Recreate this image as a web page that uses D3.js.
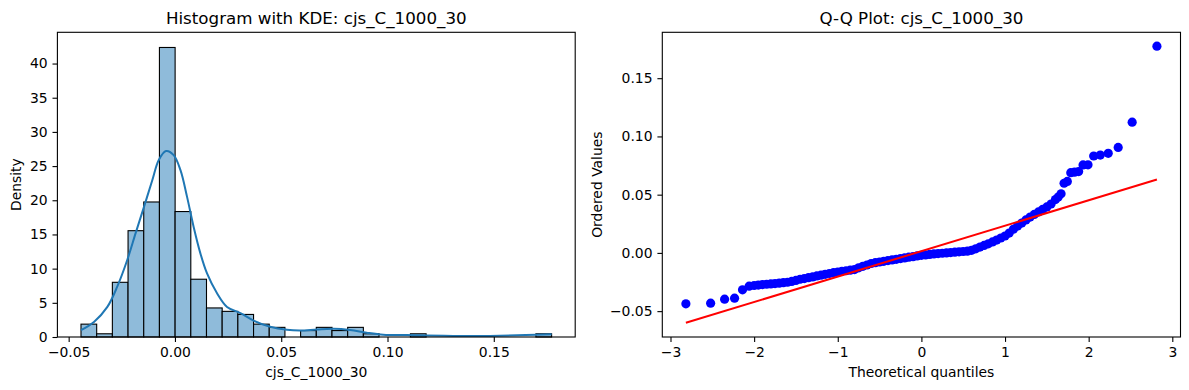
<!DOCTYPE html>
<html>
<head>
<meta charset="utf-8">
<script src="https://cdn.jsdelivr.net/npm/d3@7"></script>
<style>
  body { margin: 0; background: #fff; }
  svg text { font-family: "DejaVu Sans", sans-serif; fill: #000; }
</style>
</head>
<body>
<script>
var width  = 1189
var height = 390
var varName = 'cjs_C_1000_30'

// histogram: 30 bins between the sample min and max, density per bin
var histMin = -0.0442
var histMax = 0.1772
var histDensity = [1.88, 0.47, 8.0, 15.55, 19.75, 42.35, 18.35, 8.45, 4.25, 3.75,
                   3.3, 1.88, 1.41, 0, 0.94, 1.41, 0.94, 1.41, 0.47, 0,
                   0, 0.47, 0, 0, 0, 0, 0, 0, 0, 0.47]

// kde curve
var kdeX = [-0.0442, -0.0381, -0.0318, -0.0271, -0.0224, -0.0185, -0.0146, -0.0107, -0.0076, -0.0042,
            -0.0006, 0.0026, 0.0057, 0.0088, 0.0120, 0.0151, 0.0198, 0.0245, 0.0308, 0.0370,
            0.0448, 0.0527, 0.0589, 0.0668, 0.0746, 0.0824, 0.0902, 0.0980, 0.1090, 0.1184,
            0.1309, 0.1434, 0.1528, 0.1650, 0.1772]
var kdeY = [1.0, 2.2, 4.4, 7.4, 11.3, 15.2, 19.0, 22.9, 25.9, 27.2,
            26.6, 24.4, 20.5, 16.1, 12.2, 9.3, 6.4, 4.4, 3.5, 2.4,
            1.5, 1.05, 0.95, 1.1, 1.2, 1.02, 0.63, 0.34, 0.28, 0.22,
            0.15, 0.15, 0.18, 0.28, 0.42]

// q-q points (theoretical quantile, ordered value)
var qqX = [-2.816, -2.520, -2.353, -2.234, -2.139, -2.06,
  -2.00, -1.95, -1.90, -1.85, -1.80, -1.75, -1.70, -1.65, -1.60, -1.55,
  -1.50, -1.45, -1.40, -1.35, -1.30, -1.25, -1.20, -1.15, -1.10, -1.05,
  -1.00, -0.95, -0.90, -0.85, -0.80, -0.75, -0.70, -0.65, -0.60, -0.55,
  -0.50, -0.45, -0.40, -0.35, -0.30, -0.25, -0.20, -0.15, -0.10, -0.05,
  0.00, 0.05, 0.10, 0.15, 0.20, 0.25, 0.30, 0.35, 0.40, 0.45,
  0.50, 0.55, 0.60, 0.65, 0.70, 0.75, 0.80, 0.85, 0.90, 0.95,
  1.00, 1.05, 1.10, 1.15, 1.20, 1.25, 1.30, 1.35, 1.40, 1.45,
  1.50, 1.55, 1.603, 1.636, 1.670, 1.706, 1.745, 1.786, 1.831, 1.880,
  1.933, 1.992, 2.060, 2.139, 2.234, 2.353, 2.520, 2.816]
var qqY = [-0.0437, -0.0432, -0.0397, -0.0389, -0.0317, -0.0286,
  -0.0280, -0.0276, -0.0272, -0.0269, -0.0266, -0.0263, -0.0260, -0.0256, -0.0252, -0.0245,
  -0.0236, -0.0226, -0.0220, -0.0213, -0.0206, -0.0198, -0.0191, -0.0184, -0.0177, -0.0170,
  -0.0164, -0.0158, -0.0153, -0.0148, -0.0143, -0.0128, -0.0115, -0.0104, -0.0091, -0.0084,
  -0.0078, -0.0072, -0.0066, -0.0060, -0.0055, -0.0049, -0.0043, -0.0037, -0.0032, -0.0026,
  -0.0021, -0.0017, -0.0013, -0.0009, -0.0006, -0.0003, 0.0000, 0.0003, 0.0006, 0.0009,
  0.0012, 0.0015, 0.0022, 0.0035, 0.0050, 0.0064, 0.0078, 0.0094, 0.0110, 0.0128,
  0.0145, 0.0170, 0.0203, 0.0230, 0.0256, 0.0283, 0.0308, 0.0330, 0.0352, 0.0373,
  0.0395, 0.0420, 0.0458, 0.0480, 0.0508, 0.0598, 0.0614, 0.0689, 0.0693, 0.0698,
  0.0755, 0.0756, 0.0832, 0.0840, 0.0855, 0.0906, 0.1122, 0.1775]

// least squares line
var fitX = [-2.816, 2.816]
var fitY = [-0.0600, 0.0630]

var histXTicks = [-0.05, 0, 0.05, 0.10, 0.15]
var histYTicks = [0, 5, 10, 15, 20, 25, 30, 35, 40]
var qqXTicks = [-3, -2, -1, 0, 1, 2, 3]
var qqYTicks = [-0.05, 0, 0.05, 0.10, 0.15]

var plotTop = 32.3, plotBottom = 337
var left1 = 57.4, right1 = 575.2
var left2 = 662.3, right2 = 1180.5
var fs = 13.9

var svg = d3.select('body').append('svg')
  .attr('width', width)
  .attr('height', height)

function styleAxis(g) {
  g.select('.domain').remove()
  g.selectAll('.tick line').attr('stroke', '#000').attr('stroke-width', 1.1)
  g.selectAll('.tick text').attr('font-size', fs).attr('font-family', 'DejaVu Sans')
}

function frame(x0, x1) {
  svg.append('rect')
    .attr('x', x0).attr('y', plotTop)
    .attr('width', x1 - x0).attr('height', plotBottom - plotTop)
    .attr('fill', 'none')
    .attr('stroke', '#000')
    .attr('stroke-width', 1.1)
}

function labels(x0, x1, title, xlab, ylab, ylabX) {
  var cx = (x0 + x1) / 2
  svg.append('text')
    .attr('x', cx).attr('y', plotTop - 8.5)
    .attr('text-anchor', 'middle')
    .attr('font-size', 16.7)
    .text(title)
  svg.append('text')
    .attr('x', cx).attr('y', 377)
    .attr('text-anchor', 'middle')
    .attr('font-size', fs)
    .text(xlab)
  svg.append('text')
    .attr('transform', 'translate(' + [ylabX, (plotTop + plotBottom) / 2] + ') rotate(-90)')
    .attr('text-anchor', 'middle')
    .attr('dy', '0.35em')
    .attr('font-size', fs)
    .text(ylab)
}

// ---------- histogram with kde ----------
var x1 = d3.scaleLinear().domain([-0.0553, 0.1883]).range([left1, right1])
var y1 = d3.scaleLinear().domain([0, 44.57]).range([plotBottom, plotTop])
var binW = (histMax - histMin) / histDensity.length

svg.append('g').selectAll('rect')
  .data(histDensity)
  .enter()
  .append('rect')
  .attr('x', (d, i) => x1(histMin + i * binW))
  .attr('width', (d, i) => x1(histMin + (i + 1) * binW) - x1(histMin + i * binW))
  .attr('y', d => y1(d))
  .attr('height', d => y1(0) - y1(d))
  .attr('fill', 'rgb(143,187,218)')
  .attr('stroke', '#000')
  .attr('stroke-width', 1.1)

var kdeLine = d3.line()
  .x(d => x1(d[0]))
  .y(d => y1(d[1]))
  .curve(d3.curveCatmullRom)

svg.append('path')
  .datum(d3.zip(kdeX, kdeY))
  .attr('d', kdeLine)
  .attr('fill', 'none')
  .attr('stroke', '#1f77b4')
  .attr('stroke-width', 2)

svg.append('g')
  .attr('transform', 'translate(' + [0, plotBottom] + ')')
  .call(d3.axisBottom(x1).tickValues(histXTicks).tickFormat(d3.format('.2f'))
    .tickSize(4.9).tickPadding(4.9))
  .call(styleAxis)

svg.append('g')
  .attr('transform', 'translate(' + [left1, 0] + ')')
  .call(d3.axisLeft(y1).tickValues(histYTicks).tickFormat(d3.format('d'))
    .tickSize(4.9).tickPadding(4.9))
  .call(styleAxis)

frame(left1, right1)
labels(left1, right1, 'Histogram with KDE: ' + varName, varName, 'Density', 16)

// ---------- q-q plot ----------
var x2 = d3.scaleLinear().domain([-3.098, 3.098]).range([left2, right2])
var y2 = d3.scaleLinear().domain([-0.0722, 0.1894]).range([plotBottom, plotTop])

svg.append('g').selectAll('circle')
  .data(d3.zip(qqX, qqY))
  .enter()
  .append('circle')
  .attr('cx', d => x2(d[0]))
  .attr('cy', d => y2(d[1]))
  .attr('r', 4.6)
  .attr('fill', '#0000ff')

svg.append('path')
  .datum(d3.zip(fitX, fitY))
  .attr('d', d3.line().x(d => x2(d[0])).y(d => y2(d[1])))
  .attr('fill', 'none')
  .attr('stroke', '#ff0000')
  .attr('stroke-width', 2)

svg.append('g')
  .attr('transform', 'translate(' + [0, plotBottom] + ')')
  .call(d3.axisBottom(x2).tickValues(qqXTicks).tickFormat(d3.format('d'))
    .tickSize(4.9).tickPadding(4.9))
  .call(styleAxis)

svg.append('g')
  .attr('transform', 'translate(' + [left2, 0] + ')')
  .call(d3.axisLeft(y2).tickValues(qqYTicks).tickFormat(d3.format('.2f'))
    .tickSize(4.9).tickPadding(4.9))
  .call(styleAxis)

frame(left2, right2)
labels(left2, right2, 'Q-Q Plot: ' + varName, 'Theoretical quantiles', 'Ordered Values', 597)
</script>
</body>
</html>
